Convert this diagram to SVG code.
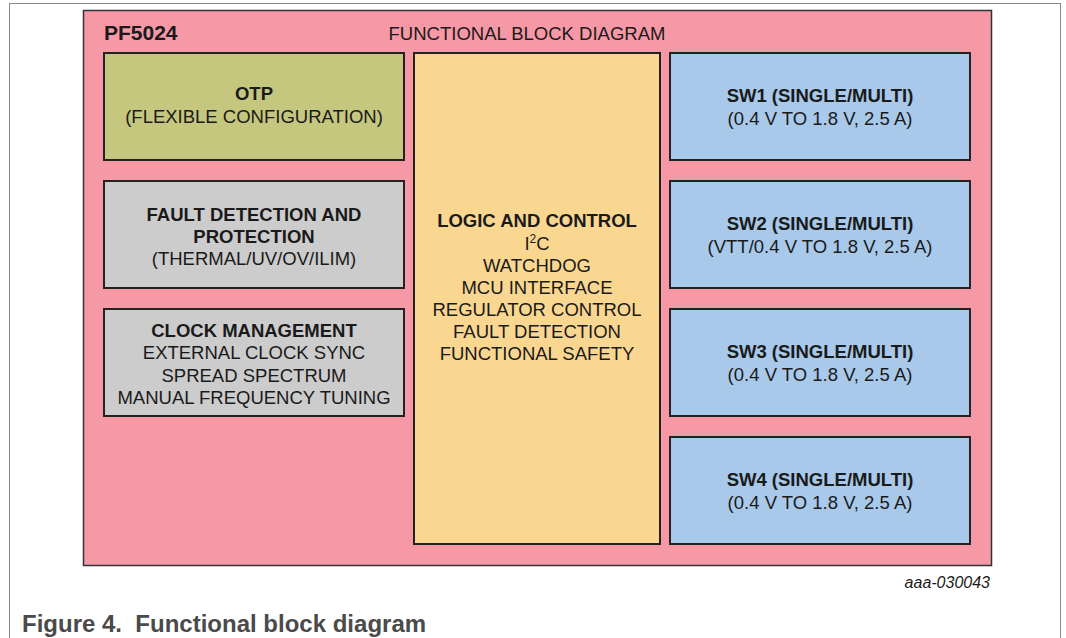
<svg xmlns="http://www.w3.org/2000/svg" width="1066" height="638" viewBox="0 0 1066 638">
<style>
text{font-family:"Liberation Sans",Arial,sans-serif;fill:#1a1a1a;font-size:18.5px;text-anchor:middle}
.b{font-weight:bold}
.box{stroke:#222;stroke-width:2}
.otp{fill:#C5C77E}
.gray{fill:#CCCCCC}
.logic{fill:#FAD790}
.sw{fill:#A9C9EB}
</style>
<rect width="1066" height="638" fill="#ffffff"/>
<rect x="9.5" y="3.5" width="1051" height="660" fill="none" stroke="#8a8a8a" stroke-width="1"/>
<g id="pf5024">
<rect x="83.5" y="10.5" width="908" height="555" fill="#F698A6" stroke="#333" stroke-width="1.5"/>
<text x="104" y="40" class="b" style="text-anchor:start;font-size:21px">PF5024</text>
<text x="527" y="40">FUNCTIONAL BLOCK DIAGRAM</text>
</g>
<g id="otp">
<rect x="104" y="53" width="300" height="107" class="box otp"/>
<text x="254" y="100" class="b">OTP</text>
<text x="254" y="123">(FLEXIBLE CONFIGURATION)</text>
</g>
<g id="fault">
<rect x="104" y="181" width="300" height="107" class="box gray"/>
<text x="254" y="221" class="b">FAULT DETECTION AND</text>
<text x="254" y="243" class="b">PROTECTION</text>
<text x="254" y="265">(THERMAL/UV/OV/ILIM)</text>
</g>
<g id="clock">
<rect x="104" y="309" width="300" height="107" class="box gray"/>
<text x="254" y="337" class="b">CLOCK MANAGEMENT</text>
<text x="254" y="359">EXTERNAL CLOCK SYNC</text>
<text x="254" y="382">SPREAD SPECTRUM</text>
<text x="254" y="404">MANUAL FREQUENCY TUNING</text>
</g>
<g id="logic">
<rect x="414" y="53" width="246" height="491" class="box logic"/>
<text x="537" y="227" class="b">LOGIC AND CONTROL</text>
<text x="537" y="250">I<tspan font-size="12" dy="-7">2</tspan><tspan dy="7">C</tspan></text>
<text x="537" y="272">WATCHDOG</text>
<text x="537" y="294">MCU INTERFACE</text>
<text x="537" y="316">REGULATOR CONTROL</text>
<text x="537" y="338">FAULT DETECTION</text>
<text x="537" y="360">FUNCTIONAL SAFETY</text>
</g>
<g id="sw1">
<rect x="670" y="53" width="300" height="107" class="box sw"/>
<text x="820" y="102" class="b">SW1 (SINGLE/MULTI)</text>
<text x="820" y="125">(0.4 V TO 1.8 V, 2.5 A)</text>
</g>
<g id="sw2">
<rect x="670" y="181" width="300" height="107" class="box sw"/>
<text x="820" y="230" class="b">SW2 (SINGLE/MULTI)</text>
<text x="820" y="253">(VTT/0.4 V TO 1.8 V, 2.5 A)</text>
</g>
<g id="sw3">
<rect x="670" y="309" width="300" height="107" class="box sw"/>
<text x="820" y="358" class="b">SW3 (SINGLE/MULTI)</text>
<text x="820" y="381">(0.4 V TO 1.8 V, 2.5 A)</text>
</g>
<g id="sw4">
<rect x="670" y="437" width="300" height="107" class="box sw"/>
<text x="820" y="486" class="b">SW4 (SINGLE/MULTI)</text>
<text x="820" y="509">(0.4 V TO 1.8 V, 2.5 A)</text>
</g>
<g id="connectors"></g>
<text x="990" y="588" style="text-anchor:end;font-size:16px;font-style:italic">aaa-030043</text>
<text x="22" y="632" class="b" style="text-anchor:start;font-size:24px;fill:#4a4a4a" xml:space="preserve">Figure 4.  Functional block diagram</text>
</svg>
